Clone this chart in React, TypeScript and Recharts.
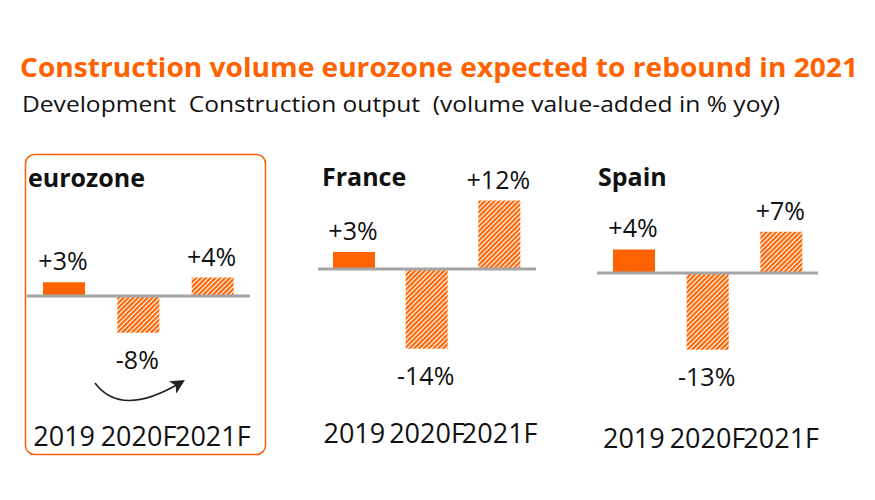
import React from "react";
import { BarChart, Bar, Cell, XAxis, YAxis, ReferenceLine, LabelList } from "recharts";

const years = ["2019", "2020F", "2021F"];
const eurozoneValues = [3, -8, 4];
const franceValues = [3, -14, 12];
const spainValues = [4, -13, 7];

const ORANGE = "#FF6200";
const GREY = "#A5A5A5";
const INK = "#111111";
const FONT = "'Open Sans', sans-serif";

// layout of each small chart, in page pixels
const panels = [
  { id: "ez", title: "eurozone", values: eurozoneValues, left: 27, right: 250, zeroY: 296, px: 4.6, top: 250, bottom: 420, titleX: 28, titleY: 187 },
  { id: "fr", title: "France", values: franceValues, left: 318, right: 536, zeroY: 269, px: 5.7, top: 190, bottom: 417, titleX: 322, titleY: 186 },
  { id: "es", title: "Spain", values: spainValues, left: 597, right: 818, zeroY: 273, px: 5.9, top: 190, bottom: 422, titleX: 598, titleY: 186 },
];

const fmt = (v: number) => `${v > 0 ? "+" : ""}${v}%`;

function ValueLabel(props: any) {
  const { x, y, width, height, value } = props;
  const top = Math.min(y, y + height);
  const bottom = Math.max(y, y + height);
  const cx = x + width / 2 - 1;
  const cy = value >= 0 ? top - 22 : bottom + 26;
  return (
    <text x={cx} y={cy} textAnchor="middle" dominantBaseline="central" fontSize={25} fontFamily={FONT} fill={INK}>
      {fmt(value)}
    </text>
  );
}

function YearTick(props: any) {
  const { x, y, payload } = props;
  return (
    <text x={x} y={y + 15} textAnchor="middle" dominantBaseline="central" fontSize={27} fontFamily={FONT} fill={INK}>
      {payload.value}
    </text>
  );
}

function MiniChart({ p }: { p: (typeof panels)[number] }) {
  const data = years.map((year, i) => ({ year, value: p.values[i] }));
  const mTop = 40;
  const mSide = 24;
  const axisH = 50;
  const max = (p.zeroY - p.top) / p.px;
  const min = -(p.bottom - p.zeroY) / p.px;
  return (
    <div style={{ position: "absolute", left: p.left - mSide, top: p.top - mTop }}>
      <BarChart
        width={p.right - p.left + 2 * mSide}
        height={mTop + (p.bottom - p.top) + axisH}
        data={data}
        margin={{ top: mTop, right: mSide, bottom: 0, left: mSide }}
      >
        <defs>
          <pattern id={`hatch-${p.id}`} patternUnits="userSpaceOnUse" width={3.4} height={3.4} patternTransform="rotate(45)">
            <rect width={3.4} height={3.4} fill="#ffffff" />
            <rect width={2.2} height={3.4} fill={ORANGE} />
          </pattern>
        </defs>
        <XAxis dataKey="year" axisLine={false} tickLine={false} tickSize={0} tickMargin={0} height={axisH} interval={0} tick={<YearTick />} />
        <YAxis hide type="number" domain={[min, max]} allowDataOverflow />
        <Bar dataKey="value" barSize={42} isAnimationActive={false}>
          {data.map((d, i) => (
            <Cell key={d.year} fill={i === 0 ? ORANGE : `url(#hatch-${p.id})`} />
          ))}
          <LabelList dataKey="value" content={<ValueLabel />} />
        </Bar>
        <ReferenceLine y={0} stroke={GREY} strokeWidth={3} />
      </BarChart>
    </div>
  );
}

export default function App() {
  return (
    <div style={{ position: "absolute", left: 0, top: 0, width: 875, height: 500, background: "#fff", fontFamily: FONT }}>
      <svg width={875} height={500} style={{ position: "absolute", left: 0, top: 0 }}>
        <defs>
          <marker id="arrowHead" viewBox="0 0 10 10" refX={6} refY={5} markerWidth={9} markerHeight={9} orient="auto">
            <path d="M0,0 L10,5 L0,10 L2.5,5 z" fill="#222" />
          </marker>
        </defs>
        <text x={20} y={77} fontSize={27} fontWeight={700} fill={ORANGE} fontFamily={FONT} textLength={838} lengthAdjust="spacingAndGlyphs">
          Construction volume eurozone expected to rebound in 2021
        </text>
        <text x={22} y={112} fontSize={22} fill={INK} fontFamily={FONT} style={{ whiteSpace: "pre" }} textLength={758} lengthAdjust="spacingAndGlyphs">
          Development  Construction output  (volume value-added in % yoy)
        </text>
        <rect x={25.5} y={154.5} width={240} height={300} rx={9} fill="none" stroke={ORANGE} strokeWidth={1.5} />
        {panels.map((p) => (
          <text key={p.id} x={p.titleX} y={p.titleY} fontSize={25} fontWeight={700} fill={INK} fontFamily={FONT}>
            {p.title}
          </text>
        ))}
        <path d="M95,383 Q121,418 180,383" fill="none" stroke="#222" strokeWidth={1.6} markerEnd="url(#arrowHead)" />
      </svg>
      {panels.map((p) => (
        <MiniChart key={p.id} p={p} />
      ))}
    </div>
  );
}
